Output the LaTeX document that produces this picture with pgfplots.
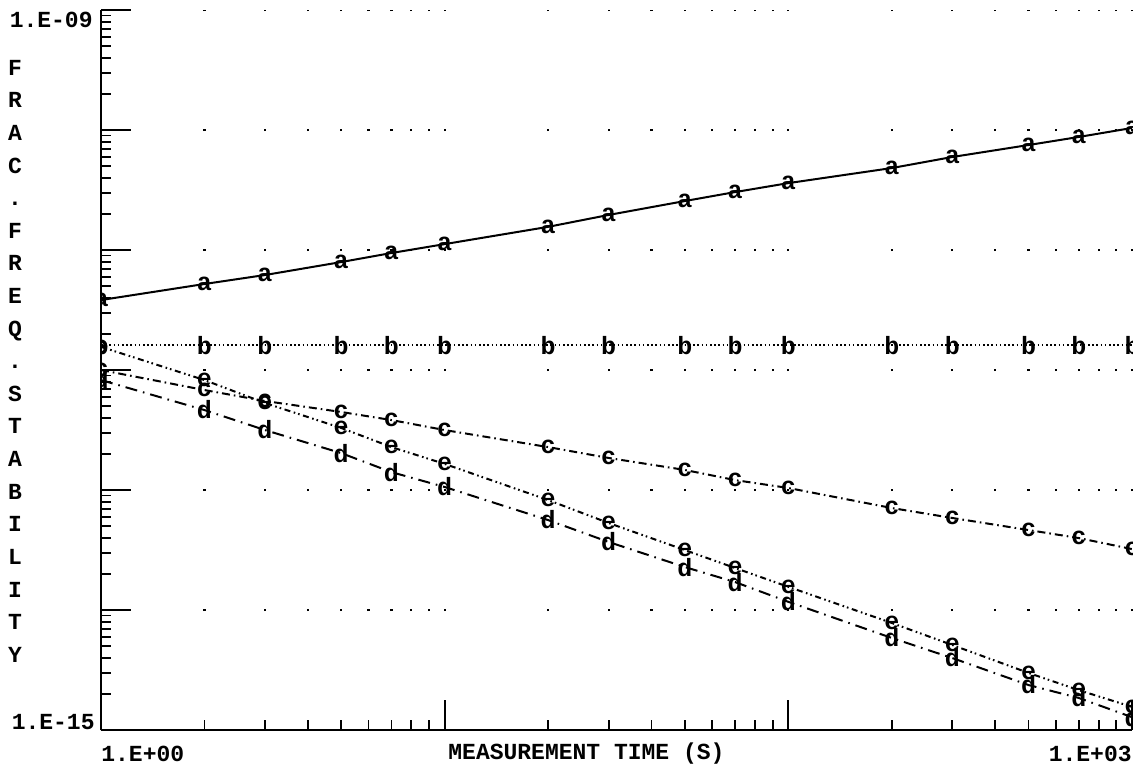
\documentclass[border=0pt]{standalone}
\usepackage{fontspec}
\setmainfont{Liberation Mono}
\usepackage{pgfplots}
\pgfplotsset{compat=1.18}
\newcommand{\lblfont}{\fontsize{11.5}{13}\selectfont\bfseries}
\newcommand{\mkfont}{\fontsize{12.5}{13}\selectfont\bfseries}
\begin{document}
\begin{tikzpicture}
\begin{axis}[
  name=ax,
  scale only axis, width=515.5pt, height=360pt,
  xmode=log, ymode=log,
  xmin=1, xmax=1000, ymin=1e-15, ymax=1e-9,
  axis x line*=bottom, axis y line*=left,
  axis line style={line width=1pt, -},
  xtick={1,10,100,1000},
  ytick={1e-15,1e-14,1e-13,1e-12,1e-11,1e-10,1e-9},
  minor xtick={2,3,4,5,6,7,8,9,20,30,40,50,60,70,80,90,200,300,400,500,600,700,800,900},
  minor ytick={2e-15,3e-15,4e-15,5e-15,6e-15,7e-15,8e-15,9e-15,
               2e-14,3e-14,4e-14,5e-14,6e-14,7e-14,8e-14,9e-14,
               2e-13,3e-13,4e-13,5e-13,6e-13,7e-13,8e-13,9e-13,
               2e-12,3e-12,4e-12,5e-12,6e-12,7e-12,8e-12,9e-12,
               2e-11,3e-11,4e-11,5e-11,6e-11,7e-11,8e-11,9e-11,
               2e-10,3e-10,4e-10,5e-10,6e-10,7e-10,8e-10,9e-10},
  xticklabels={}, yticklabels={},
  tick align=inside,
  major tick length=15pt, minor tick length=5pt,
  every tick/.style={line width=0.9pt, black},
  xmajorgrids, xminorgrids,
  major grid style={line width=1.1pt, black, dash pattern=on 1.1pt off 58.9pt, dash phase=0.55pt},
  minor grid style={line width=1.1pt, black, dash pattern=on 1.1pt off 58.9pt, dash phase=0.55pt},
  clip marker paths=true,
  text mark as node=true,
]
% series a : solid
\addplot[black, line width=1pt, mark=text, text mark={a},
  mark options={solid}, text mark style={font=\mkfont, inner sep=0pt}]
coordinates {(1,3.83e-12)(2,5.21e-12)(3,6.19e-12)(5,7.94e-12)(7,9.44e-12)(10,1.12e-11)
(20,1.56e-11)(30,1.96e-11)(50,2.56e-11)(70,3.04e-11)(100,3.61e-11)(200,4.82e-11)
(300,5.96e-11)(500,7.5e-11)(700,8.75e-11)(1000,1.04e-10)};
% series b : dotted
\addplot[black, line width=0.9pt, dash pattern=on 0.8pt off 1.3pt, mark=text, text mark={b},
  mark options={solid}, text mark style={font=\mkfont, inner sep=0pt}]
coordinates {(1,1.61e-12)(2,1.61e-12)(3,1.61e-12)(5,1.61e-12)(7,1.61e-12)(10,1.61e-12)
(20,1.61e-12)(30,1.61e-12)(50,1.61e-12)(70,1.61e-12)(100,1.61e-12)(200,1.61e-12)
(300,1.61e-12)(500,1.61e-12)(700,1.61e-12)(1000,1.61e-12)};
% series c : dash dot
\addplot[black, line width=1pt, dash pattern=on 4pt off 2pt on 0.8pt off 2pt, mark=text, text mark={c},
  mark options={solid}, text mark style={font=\mkfont, inner sep=0pt}]
coordinates {(1,1.0e-12)(2,6.81e-13)(3,5.52e-13)(5,4.47e-13)(7,3.83e-13)(10,3.16e-13)
(20,2.28e-13)(30,1.85e-13)(50,1.47e-13)(70,1.21e-13)(100,1.04e-13)(200,7.08e-14)
(300,5.85e-14)(500,4.64e-14)(700,3.98e-14)(1000,3.22e-14)};
% series e : dash dot dot
\addplot[black, line width=1pt, dash pattern=on 3pt off 1.8pt on 0.8pt off 1.5pt on 0.8pt off 1.8pt, mark=text, text mark={e},
  mark options={solid}, text mark style={font=\mkfont, inner sep=0pt}]
coordinates {(1,1.56e-12)(2,8.25e-13)(3,5.31e-13)(5,3.29e-13)(7,2.28e-13)(10,1.65e-13)
(20,8.25e-14)(30,5.31e-14)(50,3.16e-14)(70,2.24e-14)(100,1.56e-14)(200,7.80e-15)
(300,5.11e-15)(500,2.99e-15)(700,2.15e-15)(1000,1.56e-15)};
% series d : long dash dot
\addplot[black, line width=1pt, dash pattern=on 6pt off 3pt on 0.8pt off 3pt, mark=text, text mark={d},
  mark options={solid}, text mark style={font=\mkfont, inner sep=0pt}]
coordinates {(1,8.25e-13)(2,4.64e-13)(3,3.16e-13)(5,2.03e-13)(7,1.41e-13)(10,1.06e-13)
(20,5.62e-14)(30,3.69e-14)(50,2.28e-14)(70,1.71e-14)(100,1.17e-14)(200,5.85e-15)
(300,3.98e-15)(500,2.37e-15)(700,1.85e-15)(1000,1.28e-15)};
\end{axis}
% tick labels and titles
\node[anchor=base east, font=\lblfont, inner sep=0pt] at ([xshift=-4pt, yshift=-9pt]ax.north west) {1.E-09};
\node[anchor=base east, font=\lblfont, inner sep=0pt] at ([xshift=-3pt, yshift=0.5pt]ax.south west) {1.E-15};
\node[anchor=base west, font=\lblfont, inner sep=0pt] at ([yshift=-15.5pt]ax.south west) {1.E+00};
\node[anchor=base east, font=\lblfont, inner sep=0pt] at ([yshift=-15.5pt]ax.south east) {1.E+03};
\node[anchor=base west, font=\lblfont, inner sep=0pt] at ([xshift=173.5pt, yshift=-14.5pt]ax.south west) {MEASUREMENT TIME (S)};
\foreach \ch [count=\i from 0] in {F,R,A,C,.,F,R,E,Q,.,S,T,A,B,I,L,I,T,Y}
  \node[anchor=base, font=\lblfont, inner sep=0pt] at ([xshift=-43pt, yshift={-32.7pt-\i*16.3pt}]ax.north west) {\ch};
\pgfresetboundingbox
\path[use as bounding box] ([xshift=-50.5pt, yshift=-20.5pt]ax.south west) rectangle ([xshift=3pt, yshift=5pt]ax.north east);
\end{tikzpicture}
\end{document}
